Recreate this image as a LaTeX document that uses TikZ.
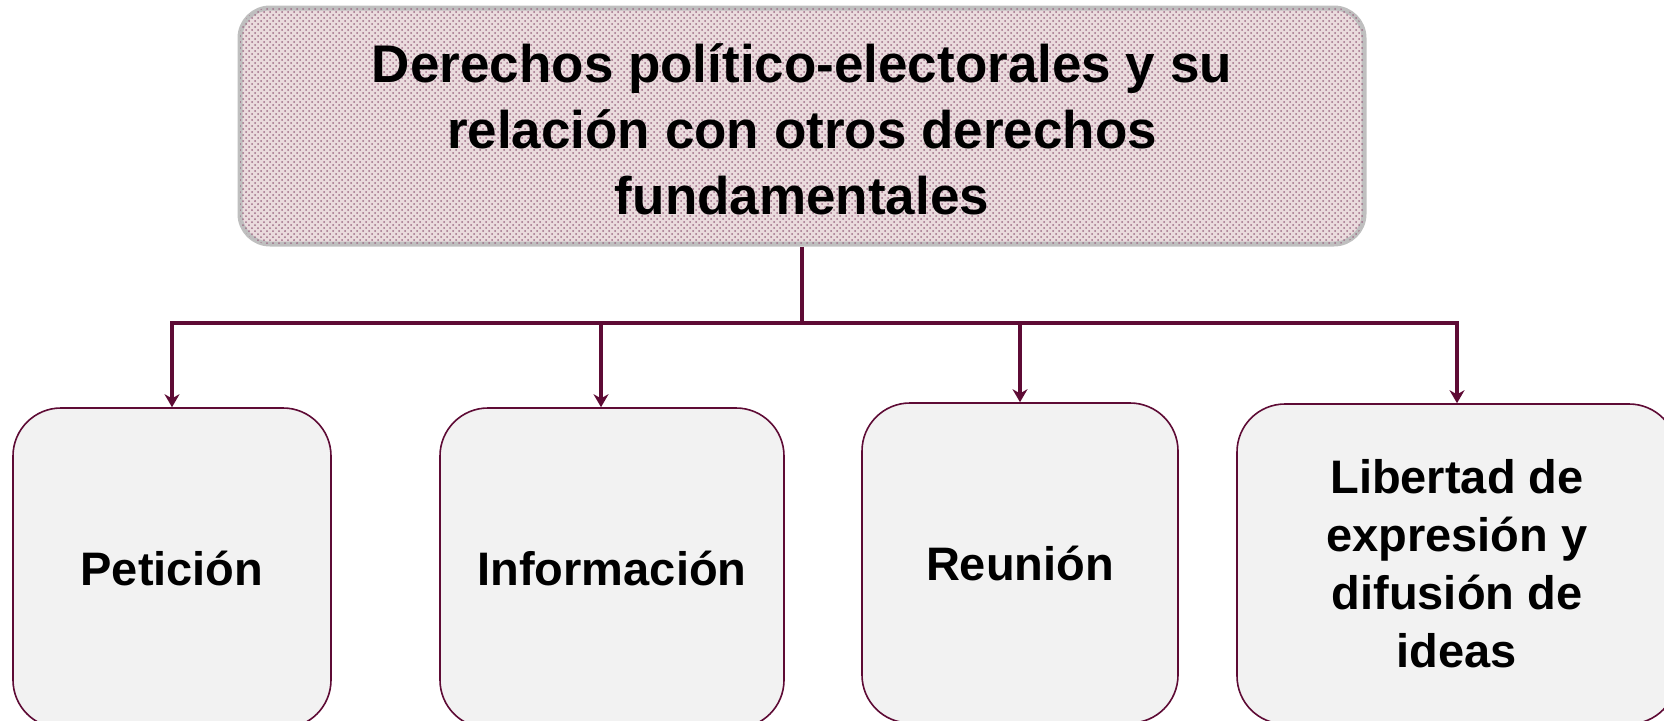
\documentclass[tikz,border=0pt]{standalone}
\usepackage{fontspec}
\setmainfont{Liberation Sans}
\usetikzlibrary{positioning,calc,arrows.meta,patterns}
\tikzset{>={Stealth[width=7.5pt,length=6.5pt]}}
\definecolor{guinda}{HTML}{5E0B35}
\definecolor{titlefill}{HTML}{EADBDD}
\definecolor{boxfill}{HTML}{F2F2F2}
\definecolor{titleborder}{HTML}{BFBFBF}
\tikzset{
  titlebox/.style={draw=titleborder,line width=2.5pt,fill=titlefill,rounded corners=15pt,
    minimum width=562pt,minimum height=118pt,inner sep=0pt,align=center},
  titletext/.style={align=center,font=\fontsize{26.5}{33}\selectfont\bfseries},
  rightbox/.style={draw=guinda,line width=0.8pt,fill=boxfill,rounded corners=24pt,
    minimum height=160pt,inner sep=0pt,align=center,
    font=\fontsize{23.5}{29}\selectfont\bfseries},
  link/.style={draw=guinda,line width=1.8pt}
}

\begin{document}
\begin{tikzpicture}[x=1pt,y=1pt]
\useasboundingbox (0,0) rectangle (832,360);
\clip (0,0) rectangle (832,360);
% top box
\node[titlebox] (top) at (401,297) {};
\path[pattern=crosshatch dots,pattern color=guinda!60,rounded corners=14pt]
  ([shift={(1.3pt,1.3pt)}]top.south west) rectangle ([shift={(-1.3pt,-1.3pt)}]top.north east);
\node[titletext] (title) at ([yshift=-1.5pt]top) {Derechos político-electorales y su\\relación con otros derechos\\fundamentales};
% the four rights
\node[rightbox,minimum width=159pt] (pet) at (86,76) {Petición};
\node[rightbox,minimum width=172pt] (info) at (306,76) {Información};
\node[rightbox,minimum width=158pt] (reu) at (510,78.5) {Reunión};
\node[rightbox,minimum width=220pt] (lib) at (728.5,78) {Libertad de\\expresión y\\difusión de\\ideas};
% connectors
\coordinate (bar) at (401,198.5);
\draw[link] (top.south) -- (bar);
\draw[link,->] (bar) -| (pet.north);
\draw[link,->] (bar) -| ([xshift=-5.5pt]info.north);
\draw[link,->] (bar) -| (reu.north);
\draw[link,->] (bar) -| (lib.north);
\end{tikzpicture}
\end{document}
